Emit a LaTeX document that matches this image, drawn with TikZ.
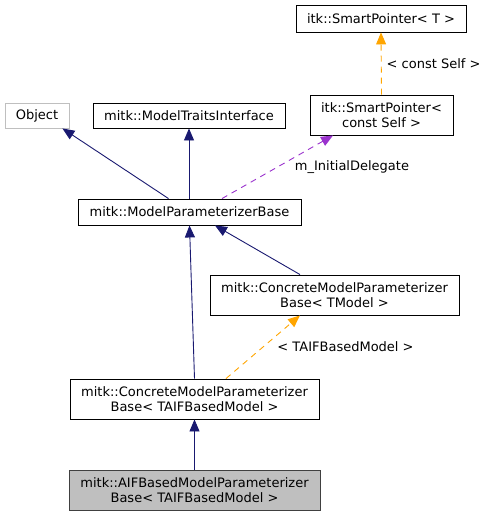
\documentclass[tikz,border=0pt]{standalone}
\usepackage{fontspec}
\setmainfont{DejaVu Sans}
\usetikzlibrary{arrows.meta}
\definecolor{navy}{HTML}{191970}
\definecolor{tmplorange}{HTML}{FFA500}
\definecolor{usepurple}{HTML}{9A32CD}
\begin{document}
\begin{tikzpicture}[x=1pt,y=-1pt,
    cls/.style={draw, fill=white, line width=0.9pt, align=center, inner xsep=2pt, inner ysep=2pt, minimum height=25pt, font=\fontsize{13}{15}\selectfont},
    cls2/.style={cls, minimum height=40pt},
    inherit/.style={draw=navy, line width=0.9pt, -{Triangle[length=12pt,width=10pt]}, shorten >=0pt},
    tmpl/.style={draw=tmplorange, line width=0.9pt, dash pattern=on 6pt off 5pt, -{Triangle[length=12pt,width=10pt]}},
    member/.style={draw=usepurple, line width=0.9pt, dash pattern=on 6pt off 5pt, -{Triangle[length=12pt,width=10pt]}},
    lbl/.style={font=\fontsize{13}{15}\selectfont, inner sep=0pt}]
    \useasboundingbox (0,0) rectangle (485,516);
    \node[cls, minimum width=170pt, minimum height=27pt] (spT) at (381,18.5) {itk::SmartPointer< T >};
    \node[cls2, minimum width=143pt] (spC) at (381.5,115) {itk::SmartPointer<\\const Self >};
    \node[cls, draw=black!25, minimum width=64pt] (obj) at (37,115.5) {Object};
    \node[cls, minimum width=192pt] (mti) at (189,115.5) {mitk::ModelTraitsInterface};
    \node[cls, minimum width=223pt, minimum height=26pt] (mpb) at (189.5,212) {mitk::ModelParameterizerBase};
    \node[cls2, minimum width=249pt] (cmT) at (334.5,295) {mitk::ConcreteModelParameterizer\\Base< TModel >};
    \node[cls2, minimum width=249pt] (cmA) at (194.5,399) {mitk::ConcreteModelParameterizer\\Base< TAIFBasedModel >};
    \node[cls2, fill=black!25, draw=black!75, minimum width=251pt] (aif) at (194.5,490) {mitk::AIFBasedModelParameterizer\\Base< TAIFBasedModel >};
    \draw[inherit] ([xshift=-21pt]mpb.north) -- ([xshift=-7pt]obj.south east);
    \draw[inherit] (mpb.north -| mti.south) -- (mti.south);
    \draw[member] ([xshift=32.5pt]mpb.north) -- ([xshift=-48.5pt]spC.south)
        node[lbl, midway, anchor=west, xshift=17pt] {m\_InitialDelegate};
    \draw[tmpl] (spC.north) -- (spT.south)
        node[lbl, midway, anchor=west, xshift=5pt] {< const Self >};
    \draw[inherit] ([xshift=-34.5pt]cmT.north) -- ([xshift=25.5pt]mpb.south);
    \draw[inherit] (cmA.north) -- (mpb.south);
    \draw[tmpl] ([xshift=31.5pt]cmA.north) -- ([xshift=-34.5pt]cmT.south)
        node[lbl, midway, anchor=west, xshift=14pt] {< TAIFBasedModel >};
    \draw[inherit] (aif.north) -- (cmA.south);
\end{tikzpicture}
\end{document}
